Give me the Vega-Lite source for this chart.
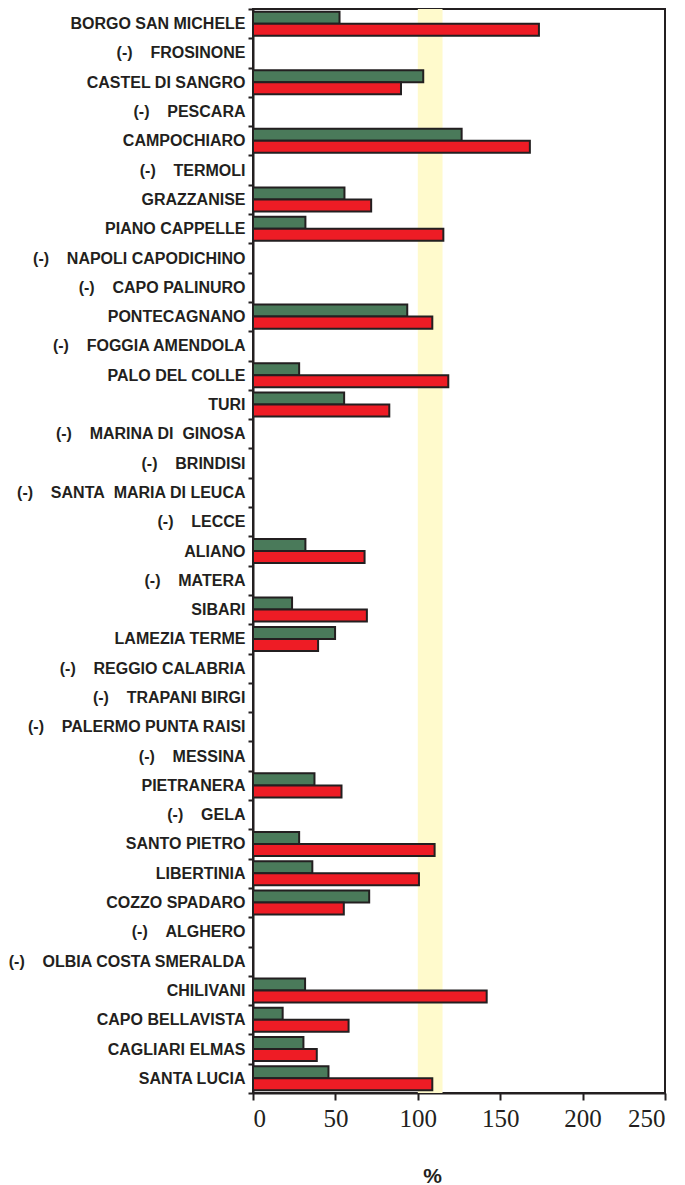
{
  "$schema": "https://vega.github.io/schema/vega-lite/v6.json",
  "width": 412,
  "height": 1084,
  "autosize": {"type": "none"},
  "padding": {"left": 253, "top": 9, "right": 20, "bottom": 92},
  "background": "white",
  "config": {"view": {"stroke": "#231F20", "strokeWidth": 2}},
  "datasets": {
    "band": [{"lo": 100, "hi": 115}],
    "valori": [
      {"stazione": "BORGO SAN MICHELE", "serie": "s1", "valore": 52.5},
      {"stazione": "BORGO SAN MICHELE", "serie": "s2", "valore": 173.5},
      {"stazione": "CASTEL DI SANGRO", "serie": "s1", "valore": 103.3},
      {"stazione": "CASTEL DI SANGRO", "serie": "s2", "valore": 89.8},
      {"stazione": "CAMPOCHIARO", "serie": "s1", "valore": 126.6},
      {"stazione": "CAMPOCHIARO", "serie": "s2", "valore": 168},
      {"stazione": "GRAZZANISE", "serie": "s1", "valore": 55.5},
      {"stazione": "GRAZZANISE", "serie": "s2", "valore": 71.7},
      {"stazione": "PIANO CAPPELLE", "serie": "s1", "valore": 31.8},
      {"stazione": "PIANO CAPPELLE", "serie": "s2", "valore": 115.5},
      {"stazione": "PONTECAGNANO", "serie": "s1", "valore": 93.6},
      {"stazione": "PONTECAGNANO", "serie": "s2", "valore": 108.8},
      {"stazione": "PALO DEL COLLE", "serie": "s1", "valore": 28},
      {"stazione": "PALO DEL COLLE", "serie": "s2", "valore": 118.5},
      {"stazione": "TURI", "serie": "s1", "valore": 55.3},
      {"stazione": "TURI", "serie": "s2", "valore": 82.7},
      {"stazione": "ALIANO", "serie": "s1", "valore": 31.8},
      {"stazione": "ALIANO", "serie": "s2", "valore": 67.7},
      {"stazione": "SIBARI", "serie": "s1", "valore": 23.7},
      {"stazione": "SIBARI", "serie": "s2", "valore": 69.1},
      {"stazione": "LAMEZIA TERME", "serie": "s1", "valore": 49.8},
      {"stazione": "LAMEZIA TERME", "serie": "s2", "valore": 39.5},
      {"stazione": "PIETRANERA", "serie": "s1", "valore": 37.3},
      {"stazione": "PIETRANERA", "serie": "s2", "valore": 53.7},
      {"stazione": "SANTO PIETRO", "serie": "s1", "valore": 28},
      {"stazione": "SANTO PIETRO", "serie": "s2", "valore": 110.2},
      {"stazione": "LIBERTINIA", "serie": "s1", "valore": 36},
      {"stazione": "LIBERTINIA", "serie": "s2", "valore": 100.7},
      {"stazione": "COZZO SPADARO", "serie": "s1", "valore": 70.5},
      {"stazione": "COZZO SPADARO", "serie": "s2", "valore": 55.1},
      {"stazione": "CHILIVANI", "serie": "s1", "valore": 31.6},
      {"stazione": "CHILIVANI", "serie": "s2", "valore": 141.8},
      {"stazione": "CAPO BELLAVISTA", "serie": "s1", "valore": 18},
      {"stazione": "CAPO BELLAVISTA", "serie": "s2", "valore": 58},
      {"stazione": "CAGLIARI ELMAS", "serie": "s1", "valore": 30.6},
      {"stazione": "CAGLIARI ELMAS", "serie": "s2", "valore": 38.7},
      {"stazione": "SANTA LUCIA", "serie": "s1", "valore": 45.8},
      {"stazione": "SANTA LUCIA", "serie": "s2", "valore": 108.8}
    ]
  },
  "layer": [
    {
      "data": {"name": "band"},
      "mark": {"type": "rect", "color": "#FFFACC"},
      "encoding": {
        "x": {
          "field": "lo", "type": "quantitative",
          "scale": {"domain": [0, 250]},
          "axis": {
            "values": [0, 50, 100, 150, 200, 250], "grid": false,
            "labelFont": "Liberation Serif", "labelFontSize": 25, "labelColor": "#231F20",
            "labelPadding": 6, "tickSize": 7, "tickWidth": 2, "tickColor": "#231F20",
            "domainColor": "#231F20", "domainWidth": 2,
            "title": "%", "titleFont": "Liberation Sans", "titleFontWeight": "bold",
            "titleFontSize": 21, "titleColor": "#231F20",
            "titleX": 179, "titleY": 72, "titleBaseline": "top", "titleAlign": "center"
          }
        },
        "x2": {"field": "hi"}
      }
    },
    {
      "data": {"name": "valori"},
      "mark": {"type": "bar", "stroke": "#231F20", "strokeWidth": 2},
      "encoding": {
        "y": {
          "field": "stazione", "type": "nominal",
          "scale": {
            "domain": [
              "BORGO SAN MICHELE", "(-)\u00a0\u00a0\u00a0\u00a0FROSINONE", "CASTEL DI SANGRO", "(-)\u00a0\u00a0\u00a0\u00a0PESCARA",
              "CAMPOCHIARO", "(-)\u00a0\u00a0\u00a0\u00a0TERMOLI", "GRAZZANISE", "PIANO CAPPELLE",
              "(-)\u00a0\u00a0\u00a0\u00a0NAPOLI CAPODICHINO", "(-)\u00a0\u00a0\u00a0\u00a0CAPO PALINURO", "PONTECAGNANO",
              "(-)\u00a0\u00a0\u00a0\u00a0FOGGIA AMENDOLA", "PALO DEL COLLE", "TURI", "(-)\u00a0\u00a0\u00a0\u00a0MARINA DI\u00a0\u00a0GINOSA",
              "(-)\u00a0\u00a0\u00a0\u00a0BRINDISI", "(-)\u00a0\u00a0\u00a0\u00a0SANTA\u00a0\u00a0MARIA DI LEUCA", "(-)\u00a0\u00a0\u00a0\u00a0LECCE", "ALIANO",
              "(-)\u00a0\u00a0\u00a0\u00a0MATERA", "SIBARI", "LAMEZIA TERME", "(-)\u00a0\u00a0\u00a0\u00a0REGGIO CALABRIA",
              "(-)\u00a0\u00a0\u00a0\u00a0TRAPANI BIRGI", "(-)\u00a0\u00a0\u00a0\u00a0PALERMO PUNTA RAISI", "(-)\u00a0\u00a0\u00a0\u00a0MESSINA",
              "PIETRANERA", "(-)\u00a0\u00a0\u00a0\u00a0GELA", "SANTO PIETRO", "LIBERTINIA", "COZZO SPADARO",
              "(-)\u00a0\u00a0\u00a0\u00a0ALGHERO", "(-)\u00a0\u00a0\u00a0\u00a0OLBIA COSTA SMERALDA", "CHILIVANI", "CAPO BELLAVISTA",
              "CAGLIARI ELMAS", "SANTA LUCIA"
            ],
            "paddingInner": 0, "paddingOuter": 0
          },
          "axis": {
            "title": null, "labelFont": "Liberation Sans", "labelFontWeight": "bold",
            "labelFontSize": 16, "labelColor": "#231F20", "labelLimit": 0, "labelPadding": 3,
            "tickBand": "extent", "tickSize": 5, "tickWidth": 2, "tickColor": "#231F20",
            "domainColor": "#231F20", "domainWidth": 2
          }
        },
        "yOffset": {"field": "serie", "scale": {"domain": ["s1", "s2"], "paddingInner": 0, "paddingOuter": 0.22}},
        "x": {
          "field": "valore", "type": "quantitative",
          "scale": {"domain": [0, 250]},
          "axis": {
            "values": [0, 50, 100, 150, 200, 250], "grid": false,
            "labelFont": "Liberation Serif", "labelFontSize": 25, "labelColor": "#231F20",
            "labelPadding": 6, "tickSize": 7, "tickWidth": 2, "tickColor": "#231F20",
            "domainColor": "#231F20", "domainWidth": 2,
            "title": "%", "titleFont": "Liberation Sans", "titleFontWeight": "bold",
            "titleFontSize": 21, "titleColor": "#231F20",
            "titleX": 179, "titleY": 72, "titleBaseline": "top", "titleAlign": "center"
          }
        },
        "color": {
          "field": "serie", "type": "nominal",
          "scale": {"domain": ["s1", "s2"], "range": ["#4A7A5A", "#EE1C25"]},
          "legend": null
        }
      }
    }
  ]
}
